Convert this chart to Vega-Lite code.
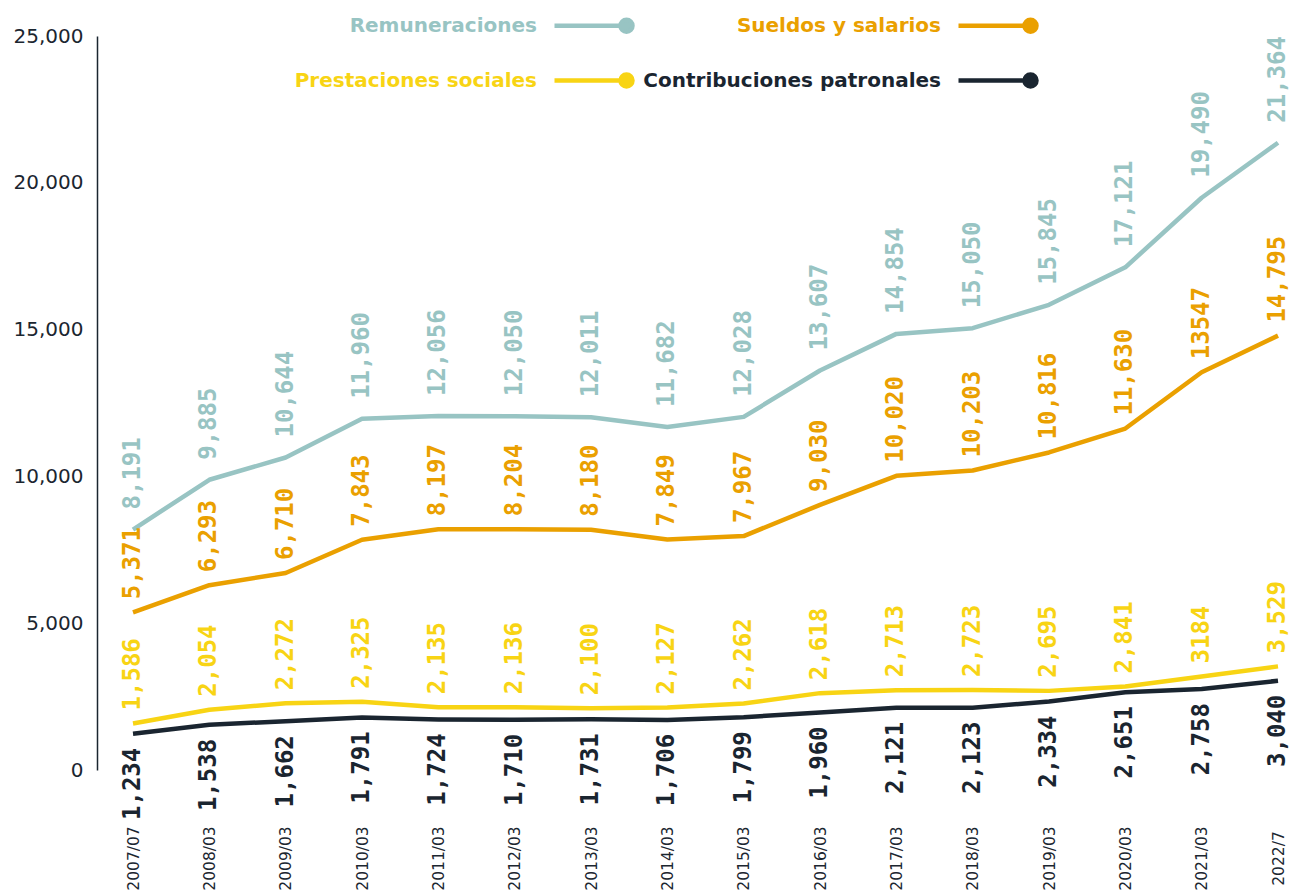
{
  "$schema": "https://vega.github.io/schema/vega-lite/v6.json",
  "autosize": {"type": "none"},
  "width": 1194,
  "height": 734,
  "padding": {"left": 97, "top": 36, "right": 0, "bottom": 124},
  "background": "white",
  "config": {"view": {"stroke": null}},
  "data": {"values": [
    {"periodo": "2007/07", "serie": "Remuneraciones", "valor": 8191, "etiqueta": "8,191"},
    {"periodo": "2008/03", "serie": "Remuneraciones", "valor": 9885, "etiqueta": "9,885"},
    {"periodo": "2009/03", "serie": "Remuneraciones", "valor": 10644, "etiqueta": "10,644"},
    {"periodo": "2010/03", "serie": "Remuneraciones", "valor": 11960, "etiqueta": "11,960"},
    {"periodo": "2011/03", "serie": "Remuneraciones", "valor": 12056, "etiqueta": "12,056"},
    {"periodo": "2012/03", "serie": "Remuneraciones", "valor": 12050, "etiqueta": "12,050"},
    {"periodo": "2013/03", "serie": "Remuneraciones", "valor": 12011, "etiqueta": "12,011"},
    {"periodo": "2014/03", "serie": "Remuneraciones", "valor": 11682, "etiqueta": "11,682"},
    {"periodo": "2015/03", "serie": "Remuneraciones", "valor": 12028, "etiqueta": "12,028"},
    {"periodo": "2016/03", "serie": "Remuneraciones", "valor": 13607, "etiqueta": "13,607"},
    {"periodo": "2017/03", "serie": "Remuneraciones", "valor": 14854, "etiqueta": "14,854"},
    {"periodo": "2018/03", "serie": "Remuneraciones", "valor": 15050, "etiqueta": "15,050"},
    {"periodo": "2019/03", "serie": "Remuneraciones", "valor": 15845, "etiqueta": "15,845"},
    {"periodo": "2020/03", "serie": "Remuneraciones", "valor": 17121, "etiqueta": "17,121"},
    {"periodo": "2021/03", "serie": "Remuneraciones", "valor": 19490, "etiqueta": "19,490"},
    {"periodo": "2022/7", "serie": "Remuneraciones", "valor": 21364, "etiqueta": "21,364"},
    {"periodo": "2007/07", "serie": "Sueldos y salarios", "valor": 5371, "etiqueta": "5,371"},
    {"periodo": "2008/03", "serie": "Sueldos y salarios", "valor": 6293, "etiqueta": "6,293"},
    {"periodo": "2009/03", "serie": "Sueldos y salarios", "valor": 6710, "etiqueta": "6,710"},
    {"periodo": "2010/03", "serie": "Sueldos y salarios", "valor": 7843, "etiqueta": "7,843"},
    {"periodo": "2011/03", "serie": "Sueldos y salarios", "valor": 8197, "etiqueta": "8,197"},
    {"periodo": "2012/03", "serie": "Sueldos y salarios", "valor": 8204, "etiqueta": "8,204"},
    {"periodo": "2013/03", "serie": "Sueldos y salarios", "valor": 8180, "etiqueta": "8,180"},
    {"periodo": "2014/03", "serie": "Sueldos y salarios", "valor": 7849, "etiqueta": "7,849"},
    {"periodo": "2015/03", "serie": "Sueldos y salarios", "valor": 7967, "etiqueta": "7,967"},
    {"periodo": "2016/03", "serie": "Sueldos y salarios", "valor": 9030, "etiqueta": "9,030"},
    {"periodo": "2017/03", "serie": "Sueldos y salarios", "valor": 10020, "etiqueta": "10,020"},
    {"periodo": "2018/03", "serie": "Sueldos y salarios", "valor": 10203, "etiqueta": "10,203"},
    {"periodo": "2019/03", "serie": "Sueldos y salarios", "valor": 10816, "etiqueta": "10,816"},
    {"periodo": "2020/03", "serie": "Sueldos y salarios", "valor": 11630, "etiqueta": "11,630"},
    {"periodo": "2021/03", "serie": "Sueldos y salarios", "valor": 13547, "etiqueta": "13547"},
    {"periodo": "2022/7", "serie": "Sueldos y salarios", "valor": 14795, "etiqueta": "14,795"},
    {"periodo": "2007/07", "serie": "Prestaciones sociales", "valor": 1586, "etiqueta": "1,586"},
    {"periodo": "2008/03", "serie": "Prestaciones sociales", "valor": 2054, "etiqueta": "2,054"},
    {"periodo": "2009/03", "serie": "Prestaciones sociales", "valor": 2272, "etiqueta": "2,272"},
    {"periodo": "2010/03", "serie": "Prestaciones sociales", "valor": 2325, "etiqueta": "2,325"},
    {"periodo": "2011/03", "serie": "Prestaciones sociales", "valor": 2135, "etiqueta": "2,135"},
    {"periodo": "2012/03", "serie": "Prestaciones sociales", "valor": 2136, "etiqueta": "2,136"},
    {"periodo": "2013/03", "serie": "Prestaciones sociales", "valor": 2100, "etiqueta": "2,100"},
    {"periodo": "2014/03", "serie": "Prestaciones sociales", "valor": 2127, "etiqueta": "2,127"},
    {"periodo": "2015/03", "serie": "Prestaciones sociales", "valor": 2262, "etiqueta": "2,262"},
    {"periodo": "2016/03", "serie": "Prestaciones sociales", "valor": 2618, "etiqueta": "2,618"},
    {"periodo": "2017/03", "serie": "Prestaciones sociales", "valor": 2713, "etiqueta": "2,713"},
    {"periodo": "2018/03", "serie": "Prestaciones sociales", "valor": 2723, "etiqueta": "2,723"},
    {"periodo": "2019/03", "serie": "Prestaciones sociales", "valor": 2695, "etiqueta": "2,695"},
    {"periodo": "2020/03", "serie": "Prestaciones sociales", "valor": 2841, "etiqueta": "2,841"},
    {"periodo": "2021/03", "serie": "Prestaciones sociales", "valor": 3184, "etiqueta": "3184"},
    {"periodo": "2022/7", "serie": "Prestaciones sociales", "valor": 3529, "etiqueta": "3,529"},
    {"periodo": "2007/07", "serie": "Contribuciones patronales", "valor": 1234, "etiqueta": "1,234"},
    {"periodo": "2008/03", "serie": "Contribuciones patronales", "valor": 1538, "etiqueta": "1,538"},
    {"periodo": "2009/03", "serie": "Contribuciones patronales", "valor": 1662, "etiqueta": "1,662"},
    {"periodo": "2010/03", "serie": "Contribuciones patronales", "valor": 1791, "etiqueta": "1,791"},
    {"periodo": "2011/03", "serie": "Contribuciones patronales", "valor": 1724, "etiqueta": "1,724"},
    {"periodo": "2012/03", "serie": "Contribuciones patronales", "valor": 1710, "etiqueta": "1,710"},
    {"periodo": "2013/03", "serie": "Contribuciones patronales", "valor": 1731, "etiqueta": "1,731"},
    {"periodo": "2014/03", "serie": "Contribuciones patronales", "valor": 1706, "etiqueta": "1,706"},
    {"periodo": "2015/03", "serie": "Contribuciones patronales", "valor": 1799, "etiqueta": "1,799"},
    {"periodo": "2016/03", "serie": "Contribuciones patronales", "valor": 1960, "etiqueta": "1,960"},
    {"periodo": "2017/03", "serie": "Contribuciones patronales", "valor": 2121, "etiqueta": "2,121"},
    {"periodo": "2018/03", "serie": "Contribuciones patronales", "valor": 2123, "etiqueta": "2,123"},
    {"periodo": "2019/03", "serie": "Contribuciones patronales", "valor": 2334, "etiqueta": "2,334"},
    {"periodo": "2020/03", "serie": "Contribuciones patronales", "valor": 2651, "etiqueta": "2,651"},
    {"periodo": "2021/03", "serie": "Contribuciones patronales", "valor": 2758, "etiqueta": "2,758"},
    {"periodo": "2022/7", "serie": "Contribuciones patronales", "valor": 3040, "etiqueta": "3,040"}
  ]},
  "encoding": {
    "x": {
      "field": "periodo", "type": "ordinal", "sort": null,
      "scale": {"type": "point", "range": [36, 1181], "padding": 0},
      "axis": {
        "title": null, "domain": false, "ticks": false, "grid": false,
        "labelAngle": 270, "labelAlign": "center", "labelBaseline": "middle",
        "labelPadding": 88, "labelFont": "DejaVu Sans", "labelFontSize": 15.5,
        "labelColor": "#1B2630", "labelOverlap": false, "labelBound": false
      }
    },
    "y": {
      "field": "valor", "type": "quantitative",
      "scale": {"domain": [0, 25000], "nice": false, "zero": true},
      "axis": {
        "title": null, "grid": false, "ticks": false,
        "domain": true, "domainColor": "#1B2630", "domainWidth": 1.5,
        "values": [0, 5000, 10000, 15000, 20000, 25000],
        "labelExpr": "format(datum.value, ',')",
        "labelFont": "DejaVu Sans", "labelFontSize": 20, "labelColor": "#1B2630",
        "labelPadding": 14
      }
    },
    "color": {
      "field": "serie", "type": "nominal",
      "scale": {
        "domain": ["Remuneraciones", "Sueldos y salarios", "Prestaciones sociales", "Contribuciones patronales"],
        "range": ["#98C4C3", "#EAA000", "#F8D414", "#1A2530"]
      },
      "legend": null
    }
  },
  "layer": [
    {
      "mark": {"type": "line", "strokeWidth": 4.5, "strokeJoin": "round"},
      "encoding": {
        "color": {
          "field": "serie", "type": "nominal",
          "scale": {
            "domain": ["Remuneraciones", "Sueldos y salarios", "Prestaciones sociales", "Contribuciones patronales"],
            "range": ["#98C4C3", "#EAA000", "#F8D414", "#1A2530"]
          },
          "legend": {
            "title": null,
            "orient": "none", "legendX": 455, "legendY": -23,
            "direction": "horizontal", "columns": 2,
            "columnPadding": 1, "rowPadding": 24,
            "symbolType": "M -1 0 L 6.2 0 M 5.6 0 A 0.6 0.6 0 1 0 6.8 0 A 0.6 0.6 0 1 0 5.6 0 Z",
            "symbolSize": 400, "symbolStrokeWidth": 4.5,
            "labelAlign": "right", "labelOffset": -40, "labelLimit": 0,
            "labelFont": "DejaVu Sans", "labelFontWeight": "bold", "labelFontSize": 20,
            "encode": {
              "labels": {"update": {"fill": {"scale": "color", "field": "value"}}},
              "symbols": {"update": {"fill": {"scale": "color", "field": "value"}, "stroke": {"scale": "color", "field": "value"}, "opacity": {"value": 1}}}
            }
          }
        }
      }
    },
    {
      "transform": [{"filter": "datum.serie === 'Remuneraciones'"}],
      "mark": {"type": "text", "angle": 270, "align": "left", "baseline": "middle", "dx": 20, "font": "DejaVu Sans Mono", "fontWeight": "bold", "fontSize": 24},
      "encoding": {"text": {"field": "etiqueta"}}
    },
    {
      "transform": [{"filter": "datum.serie === 'Sueldos y salarios' || datum.serie === 'Prestaciones sociales'"}],
      "mark": {"type": "text", "angle": 270, "align": "left", "baseline": "middle", "dx": 13, "font": "DejaVu Sans Mono", "fontWeight": "bold", "fontSize": 24},
      "encoding": {"text": {"field": "etiqueta"}}
    },
    {
      "transform": [{"filter": "datum.serie === 'Contribuciones patronales'"}],
      "mark": {"type": "text", "angle": 270, "align": "right", "baseline": "middle", "dx": -14, "font": "DejaVu Sans Mono", "fontWeight": "bold", "fontSize": 24},
      "encoding": {"text": {"field": "etiqueta"}}
    }
  ]
}
